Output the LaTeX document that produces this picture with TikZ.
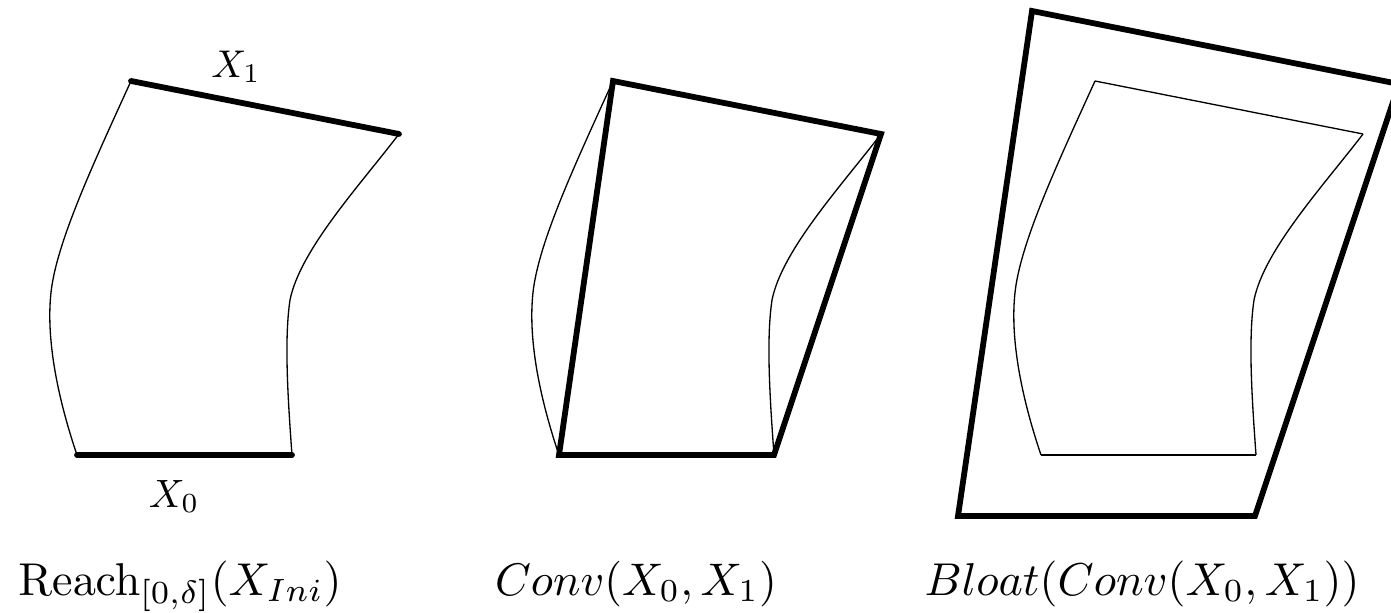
\documentclass[tikz,border=0pt]{standalone}
\usepackage{graphicx}
\newcommand{\bigtext}[2]{\scalebox{#1}{#2}}
\begin{document}
\begin{tikzpicture}[x=0.02cm,y=-0.02cm,
  thin line/.style={line width=0.75pt,line join=round},
  thick line/.style={line width=3.3pt,line cap=round,line join=miter},
  lbl/.style={font=\fontsize{10}{12}\selectfont,inner sep=0pt,anchor=base}]
\useasboundingbox (0,0) rectangle (1391,612);
\clip (0,0) rectangle (1391,612);
% curved sides (reused)
\def\leftside{(131,81) .. controls (95,160) and (60,235) .. (52,285) .. controls (45,330) and (55,390) .. (77,455)}
\def\rightside{(399,134) .. controls (360,185) and (300,250) .. (290,300) .. controls (284,340) and (288,400) .. (292,455)}
% ---- shape 1 ----
\draw[thin line] \leftside;
\draw[thin line] \rightside;
\draw[thick line] (131,81) -- (399,134);
\draw[thick line] (77,455) -- (292,455);
\node[lbl] (x1) at (236,77) {\bigtext{2.2}{$X_1$}};
\node[lbl] (x0) at (174,507) {\bigtext{2.25}{$X_0$}};
% ---- shape 2 ----
\begin{scope}[shift={(482,0)}]
\draw[thin line] \leftside;
\draw[thin line] \rightside;
\draw[thick line,line cap=butt] (131,81) -- (399,134) -- (292,455) -- (77,455) -- cycle;
\end{scope}
% ---- shape 3 ----
\begin{scope}[shift={(964,0)}]
\draw[thin line] \leftside;
\draw[thin line] \rightside;
\draw[thin line] (131,81) -- (399,134);
\draw[thin line] (77,455) -- (292,455);
\end{scope}
\draw[thick line,line cap=butt] (1032,11) -- (1399,84) -- (1255,516) -- (958,516) -- cycle;
% ---- captions ----
\node[lbl] (c1) at (180,595) {\bigtext{2.62}{$\mathrm{Reach}_{[0,\delta]}(X_{Ini})$}};
\node[lbl] (c2) at (636,595) {\bigtext{2.6}{$Conv(X_0,X_1)$}};
\node[lbl] (c3) at (1142,595) {\bigtext{2.62}{$Bloat(Conv(X_0,X_1))$}};
\end{tikzpicture}
\end{document}
